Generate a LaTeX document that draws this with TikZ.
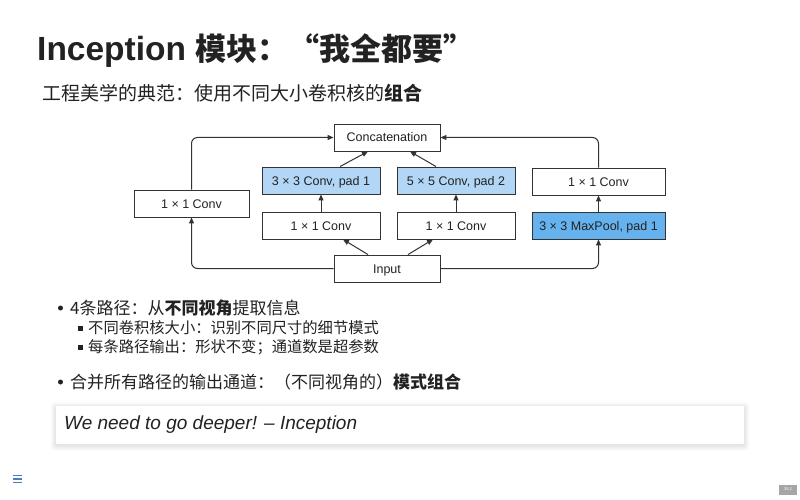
\documentclass[tikz,border=0pt]{standalone}
\usepackage{fontspec}
\setmainfont{Liberation Sans}
\newfontfamily\cjk{Noto Sans CJK SC}
\usetikzlibrary{arrows.meta}
\definecolor{txt}{HTML}{222222}
\definecolor{lightblue}{HTML}{B2D6F6}
\definecolor{midblue}{HTML}{66B2EE}
\definecolor{edge}{HTML}{333333}
\definecolor{iconblue}{HTML}{4A7CC4}
\tikzset{
  blk/.style={draw=edge, line width=0.9pt, minimum height=27pt, inner sep=0pt,
    text height=9pt, text depth=0pt,
    font=\fontsize{12.5}{14}\selectfont, text=txt},
  conn/.style={draw=edge, line width=1pt, rounded corners=6pt,
    -{Triangle[length=6pt,width=5pt]}},
  bul/.style={anchor=west, inner sep=0pt, text=txt},
}
\begin{document}
\begin{tikzpicture}[x=1pt,y=-1pt]
\useasboundingbox (0,0) rectangle (800,500);
\fill[white] (0,0) rectangle (800,500);
% title
\node[anchor=base west, inner sep=0pt, text=txt, font=\fontsize{33.5}{40}\selectfont\bfseries] (title) at (37,61)
  {Inception {\cjk\fontsize{31}{37}\selectfont 模块：“我全都要”}};
\node[anchor=west, inner sep=0pt, text=txt, font=\fontsize{19}{22}\selectfont\cjk] (sub) at (42,93)
  {工程美学的典范：使用不同大小卷积核的\textbf{组合}};
% diagram
\node[blk, minimum width=106pt] (cat) at (387,137.5) {Concatenation};
\node[blk, minimum width=118pt, fill=lightblue] (c33) at (321,180.5) {3 × 3 Conv, pad 1};
\node[blk, minimum width=118pt, fill=lightblue] (c55) at (456,180.5) {5 × 5 Conv, pad 2};
\node[blk, minimum width=133pt] (r11) at (598.5,181.5) {1 × 1 Conv};
\node[blk, minimum width=115pt] (l11) at (191.5,203.5) {1 × 1 Conv};
\node[blk, minimum width=118pt] (m11a) at (321,225.5) {1 × 1 Conv};
\node[blk, minimum width=118pt] (m11b) at (456,225.5) {1 × 1 Conv};
\node[blk, minimum width=133pt, fill=midblue] (mp) at (598.5,225.5) {3 × 3 MaxPool, pad 1};
\node[blk, minimum width=106pt] (inp) at (387,268.5) {Input};
% connectors
\draw[conn] (inp.west) -| (l11.south);
\draw[conn] (l11.north) |- (cat.west);
\draw[conn] ([xshift=-19pt]inp.north) -- ([xshift=22pt]m11a.south);
\draw[conn] (m11a.north) -- (c33.south);
\draw[conn] ([xshift=19pt]c33.north) -- ([xshift=-19pt]cat.south);
\draw[conn] ([xshift=21pt]inp.north) -- ([xshift=-23pt]m11b.south);
\draw[conn] (m11b.north) -- (c55.south);
\draw[conn] ([xshift=-20pt]c55.north) -- ([xshift=23pt]cat.south);
\draw[conn] (inp.east) -| (mp.south);
\draw[conn] (mp.north) -- (r11.south);
\draw[conn] (r11.north) |- (cat.east);
% bullets
\fill[txt] (60.5,308) circle (2.5pt);
\node[bul, font=\fontsize{17}{20}\selectfont\cjk] (b1) at (70,308) {4条路径：从\textbf{不同视角}提取信息};
\fill[txt] (77.5,325.5) rectangle +(5,5);
\node[bul, font=\fontsize{15.3}{18}\selectfont\cjk] (s1) at (88,328) {不同卷积核大小：识别不同尺寸的细节模式};
\fill[txt] (77.5,345) rectangle +(5,5);
\node[bul, font=\fontsize{15.3}{18}\selectfont\cjk] (s2) at (88,347.5) {每条路径输出：形状不变；通道数是超参数};
\fill[txt] (60.5,382) circle (2.5pt);
\node[bul, font=\fontsize{17}{20}\selectfont\cjk] (b2) at (70,382) {合并所有路径的输出通道：（不同视角的）\textbf{模式组合}};
% quote box with soft shadow
\foreach \s in {5,4,3,2,1}
  \fill[black, opacity=0.018, rounded corners=3pt] (56-\s,406-\s+1.5) rectangle (744+\s,444+\s+1.5);
\node[fill=white, minimum width=688pt, minimum height=38pt, inner sep=0pt] (qbox) at (400,425) {};
\node[anchor=west, inner sep=0pt, text=txt, font=\fontsize{19}{22}\selectfont\itshape] (quote) at (64,425)
  {We need to go deeper! – Inception};
% icon
\draw[iconblue, line width=1.3pt] (13,475.5) -- (22,475.5) (13,479) -- (22,479) (13,482.5) -- (22,482.5);
% page number
\node[fill=gray!70, text=white, minimum width=18pt, minimum height=10pt, inner sep=0pt,
  font=\fontsize{4}{5}\selectfont] (pg) at (788,489.5) {39.2};
\end{tikzpicture}
\end{document}
